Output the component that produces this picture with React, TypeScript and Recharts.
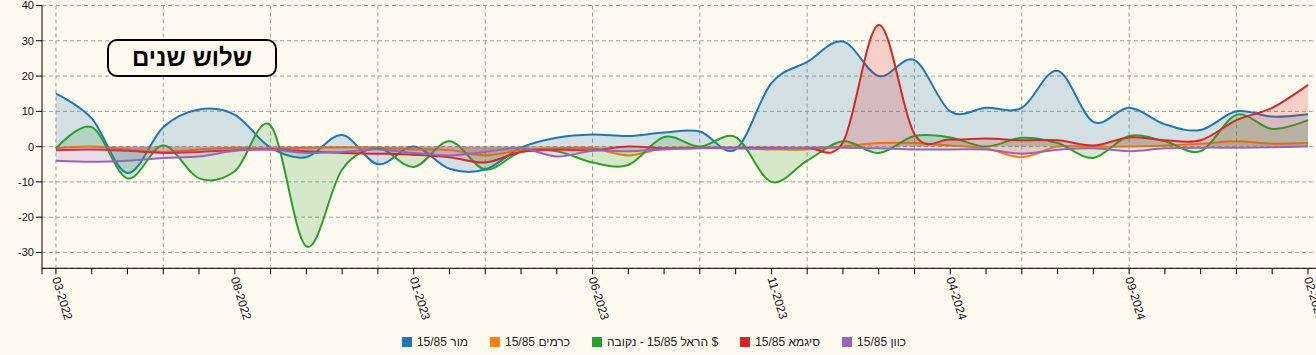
import React from 'react';
import { ComposedChart, Area, XAxis, YAxis, CartesianGrid } from 'recharts';

// ---------- data ----------
const months = [
  '03-2022', '04-2022', '05-2022', '06-2022', '07-2022', '08-2022', '09-2022', '10-2022', '11-2022', '12-2022',
  '01-2023', '02-2023', '03-2023', '04-2023', '05-2023', '06-2023', '07-2023', '08-2023', '09-2023', '10-2023', '11-2023', '12-2023',
  '01-2024', '02-2024', '03-2024', '04-2024', '05-2024', '06-2024', '07-2024', '08-2024', '09-2024', '10-2024', '11-2024', '12-2024',
  '01-2025', '02-2025',
];

const mor = [15, 8, -7.5, 5.5, 10.5, 9, -0.3, -3, 3.3, -5, 0, -6.3, -6.5, -0.3, 2.5, 3.4, 3, 4, 4.3, -0.8, 18, 24, 29.8, 20, 24.5, 10, 11, 11, 21.5, 7, 11, 6.3, 4.7, 10, 8.5, 9.2];
const carmim = [-0.5, 0, -0.8, -1.5, -0.8, -0.3, -0.5, -0.3, -0.2, -0.3, -0.8, -1, -2.5, -1, -0.5, -0.5, -2.5, -0.5, -0.3, -0.5, -0.8, -0.8, 0, 1, 1, 0.3, -0.5, -3, 0, 0, 0, 0.3, 0.8, 1.5, 0.8, 1];
const harel = [-0.5, 5.5, -9, 0.3, -9, -7, 6, -28.3, -6.5, -0.5, -5.8, 1.5, -6.5, -1.5, -1.3, -4.5, -5.2, 2.7, 0, 2.7, -10, -4, 1.5, -1.8, 3, 2.6, 0, 2.5, 1, -3.2, 3, 1.5, -1.3, 9, 5, 7.5];
const sigma = [-1, -0.8, -1.2, -1.8, -1.5, -1, -0.8, -1.3, -1.8, -2, -2.3, -3, -4.5, -1.5, -0.9, -1, 0, -0.5, -0.4, -0.3, -0.3, -0.3, 1.2, 34.5, 3.5, 2, 2.3, 1.8, 1.8, 0.3, 2.6, 1.8, 1.8, 7.5, 11, 17.5];
const kivun = [-4, -4.3, -4, -3.2, -2.8, -1.2, -0.8, -1.8, -1.5, -0.8, -1.8, -2.5, -1.5, -0.4, -2.8, -1.2, -1.3, -0.8, -0.5, -0.5, -0.5, -0.3, -0.3, -0.5, -0.8, -0.8, -0.8, -2, -0.9, -0.5, -1.3, -0.5, -0.3, -0.3, -0.2, 0];

const seriesNames = ['מור 15/85', 'כרמים 15/85', 'הראל 15/85 - נקובה $', 'סיגמא 15/85', 'כוון 15/85'];
const seriesKeys = ['mor', 'carmim', 'harel', 'sigma', 'kivun'];
const seriesColors = ['#1f77b4', '#ff7f0e', '#2ca02c', '#d62728', '#9467bd'];
const seriesValues = [mor, carmim, harel, sigma, kivun];

const yTicks = [-30, -20, -10, 0, 10, 20, 30, 40];
const yDomain = [-34.5, 40];
const labelEvery = 5;
const gridEvery = 3;
const titleText = 'שלוש שנים';

const data = months.map((m, i) => {
  const row: Record<string, number | string> = { i, month: m };
  seriesKeys.forEach((k, s) => {
    row[k] = seriesValues[s][i];
  });
  return row;
});

const xStart = -0.39;
const xEnd = 35.224;
const xTicks = [xStart, ...months.map((_, i) => i)];
const gridValues = months.map((_, i) => i).filter((i) => i % gridEvery === 0);

// ---------- cardinal curve (d3-style) ----------
function cardPoint(that: any, x: number, y: number) {
  that._context.bezierCurveTo(
    that._x1 + that._k * (that._x2 - that._x0),
    that._y1 + that._k * (that._y2 - that._y0),
    that._x2 + that._k * (that._x1 - x),
    that._y2 + that._k * (that._y1 - y),
    that._x2,
    that._y2
  );
}

class Cardinal {
  _context: any; _k: number; _line: number = NaN; _point = 0;
  _x0 = NaN; _x1 = NaN; _x2 = NaN; _y0 = NaN; _y1 = NaN; _y2 = NaN;
  constructor(context: any, tension: number) {
    this._context = context;
    this._k = (1 - tension) / 6;
  }
  areaStart() { this._line = 0; }
  areaEnd() { this._line = NaN; }
  lineStart() {
    this._x0 = this._x1 = this._x2 = this._y0 = this._y1 = this._y2 = NaN;
    this._point = 0;
  }
  lineEnd() {
    switch (this._point) {
      case 2: this._context.lineTo(this._x2, this._y2); break;
      case 3: cardPoint(this, this._x1, this._y1); break;
    }
    if (this._line || (this._line !== 0 && this._point === 1)) this._context.closePath();
    this._line = 1 - this._line;
  }
  point(x: number, y: number) {
    x = +x; y = +y;
    switch (this._point) {
      case 0:
        this._point = 1;
        if (this._line) this._context.lineTo(x, y); else this._context.moveTo(x, y);
        break;
      case 1:
        this._point = 2; this._x1 = x; this._y1 = y;
        break;
      case 2:
        this._point = 3;
        cardPoint(this, x, y);
        break;
      default:
        cardPoint(this, x, y);
        break;
    }
    this._x0 = this._x1; this._x1 = this._x2; this._x2 = x;
    this._y0 = this._y1; this._y1 = this._y2; this._y2 = y;
  }
}

const cardinalCurve: any = (context: any) => new Cardinal(context, 0);

// ---------- ticks ----------
const XTick = (props: any) => {
  const { x, y, payload } = props;
  const v = payload.value;
  if (!Number.isInteger(v) || v % labelEvery !== 0) return <g />;
  return (
    <text
      transform={`translate(${x},${y + 1}) rotate(73)`}
      dy="0.35em"
      textAnchor="start"
      fontSize={12}
      fill="#111"
    >
      {months[v]}
    </text>
  );
};

const BG = '#FFFAF0';
const FONT = "'Liberation Sans', Arial, sans-serif";

export default function App() {
  return (
    <div
      style={{
        position: 'absolute',
        left: 0,
        top: 0,
        width: 1316,
        height: 355,
        background: BG,
        overflow: 'hidden',
        fontFamily: FONT,
      }}
    >
      <ComposedChart width={1316} height={355} data={data} margin={{ top: 5.5, right: 0, left: 0, bottom: 0 }}>
        <CartesianGrid stroke="#a0a0a0" strokeDasharray="4 3" verticalValues={gridValues} />
        <XAxis
          type="number"
          dataKey="i"
          domain={[xStart, xEnd]}
          ticks={xTicks}
          interval={0}
          height={86.7}
          tick={<XTick />}
          tickSize={6}
          axisLine={{ stroke: '#000' }}
          tickLine={{ stroke: '#000' }}
          allowDataOverflow
        />
        <YAxis
          type="number"
          domain={yDomain}
          ticks={yTicks}
          interval={0}
          width={42}
          tick={{ fontSize: 11, fill: '#111' }}
          axisLine={{ stroke: '#000' }}
          tickLine={{ stroke: '#000' }}
          allowDataOverflow
        />
        {seriesKeys.map((k, s) => (
          <Area
            key={k}
            dataKey={k}
            name={seriesNames[s]}
            type={cardinalCurve}
            stroke={seriesColors[s]}
            strokeWidth={2}
            fill={seriesColors[s]}
            fillOpacity={0.2}
            baseValue={0}
            dot={false}
            activeDot={false}
            isAnimationActive={false}
          />
        ))}
      </ComposedChart>

      <div
        style={{
          position: 'absolute',
          left: 107,
          top: 39,
          width: 170,
          height: 38,
          boxSizing: 'border-box',
          border: '2px solid #000',
          borderRadius: 10,
          background: BG,
          display: 'flex',
          alignItems: 'center',
          justifyContent: 'center',
          fontWeight: 'bold',
          fontSize: 24,
          direction: 'rtl',
          color: '#000',
        }}
      >
        {titleText}
      </div>

      <div
        style={{
          position: 'absolute',
          left: -4,
          top: 334,
          width: 1316,
          height: 16,
          display: 'flex',
          justifyContent: 'center',
          alignItems: 'center',
          gap: 22,
          fontSize: 12,
          color: '#222',
        }}
      >
        {seriesNames.map((n, s) => (
          <div key={n} style={{ display: 'flex', alignItems: 'center' }}>
            <span style={{ display: 'inline-block', width: 10, height: 10, background: seriesColors[s], marginRight: 5 }} />
            <span>{n}</span>
          </div>
        ))}
      </div>
    </div>
  );
}
